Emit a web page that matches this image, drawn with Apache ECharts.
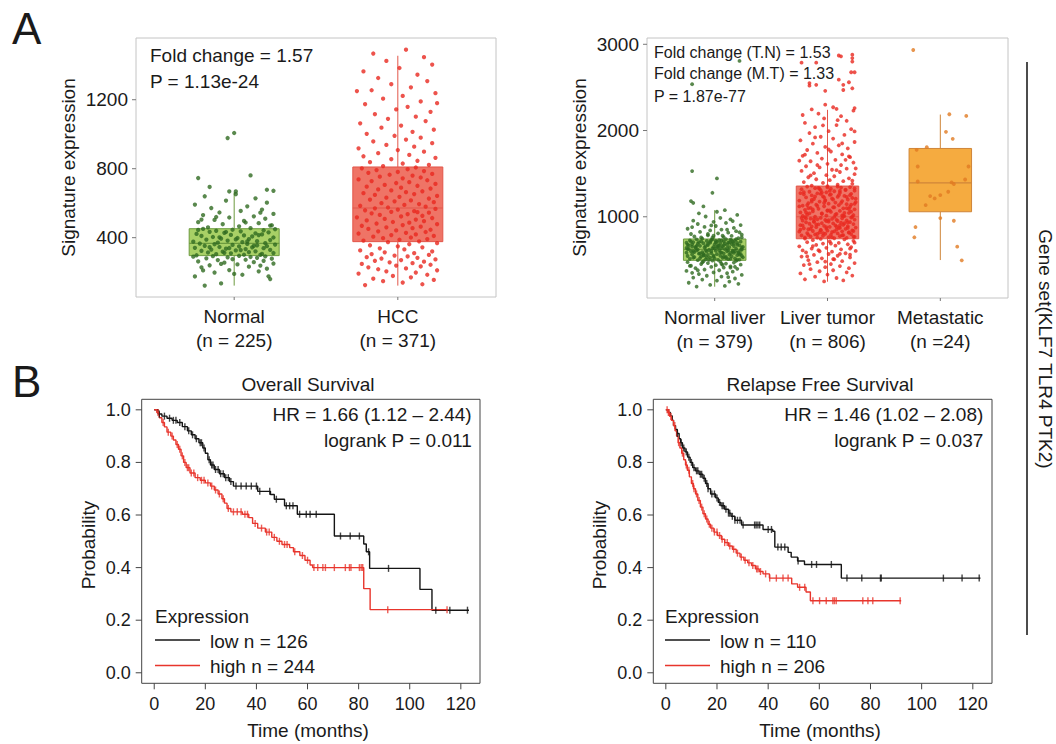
<!DOCTYPE html>
<html><head><meta charset="utf-8">
<script src="https://cdn.jsdelivr.net/npm/echarts@6/dist/echarts.min.js"></script>
<style>html,body{margin:0;padding:0;background:#fff}#c{width:1056px;height:744px}</style>
</head><body><div id="c"></div>
<script>
const FONT = '"Liberation Sans", Arial, Helvetica, sans-serif';

// ---------- Panel A (left) ----------
const catsA1 = ['Normal\n(n = 225)', 'HCC\n(n = 371)'];
const ticksA1 = [400, 800, 1200];
// [min, Q1, median, Q3, max]
const boxA1 = [[122, 296, 367, 452, 663], [122, 377, 572, 810, 1455]];
// [jitter (% of category spacing), value]
const ptsNormal = [[-18,122],[-8,135],[22,160],[-24,175],[5,185],[-12,198],[15,205],[-3,212],[20,220],[-20,228],[9,232],[-15,240],[2,245],[24,250],[-6,255],[12,258],[-22,262],[18,266],[-10,270],[7,272],[-1,275],[23,278],[-17,280],[14,283],[-4,286],[10,288],[-25,290],[19,292],[-13,293],[3,295],[-8,248],[16,238],[-19,210],[0,190],[21,176],
[-23,298],[6,301],[-11,304],[17,306],[-2,309],[24,311],[-16,314],[9,316],[-7,319],[13,321],[-20,324],[1,326],[22,329],[-14,331],[7,334],[-5,336],[18,339],[-24,341],[11,344],[-9,346],[3,349],[20,351],[-18,353],[14,356],[-1,358],[25,360],[-12,362],[8,364],[-21,366],[16,300],[-6,312],[4,328],[-15,345],[12,352],[-3,340],
[19,368],[-10,371],[5,374],[-25,377],[14,380],[-4,383],[22,386],[-17,389],[9,392],[-8,395],[2,398],[24,401],[-13,404],[11,407],[-20,410],[6,413],[-2,416],[17,419],[-23,422],[13,425],[-6,428],[21,431],[-15,434],[4,437],[-11,440],[18,443],[-1,446],[25,449],[-19,451],[8,378],[-9,402],[15,415],[-5,433],[1,390],[-22,445],
[10,455],[-16,460],[3,466],[23,472],[-7,478],[15,484],[-22,490],[6,497],[-12,503],[19,510],[-3,517],[12,524],[-19,531],[24,538],[-9,546],[4,555],[17,563],[-14,572],[8,582],[-24,592],[20,603],[-5,615],[13,628],[-18,640],[1,652],[22,470],[-11,520],[7,488],[16,545],[-20,505],
[-22,746],[10,761],[-15,694],[20,678],[24,672],[-3,668],[1,668],[-4,978],[0,1007]];
const ptsHCC = [[-20,125],[15,130],[3,140],[-9,148],[22,155],[-15,162],[8,170],[-3,178],[18,185],[-24,192],[11,198],[-7,205],[24,211],[-12,217],[5,222],[-18,228],[14,233],[-1,238],[20,243],[-22,248],[9,252],[-5,257],[16,261],[-14,266],[2,270],[23,274],[-10,279],[12,283],[-19,287],[6,291],[-2,296],[19,300],[-16,305],[10,310],[-8,315],[21,320],[-23,326],[4,332],[-11,338],[15,344],[0,350],[-17,356],[7,362],[24,368],[-6,374],
[13,379],[-21,383],[1,388],[18,392],[-9,397],[8,401],[-15,406],[22,410],[-4,415],[11,419],[-24,424],[5,428],[17,433],[-12,437],[-1,442],[20,446],[-18,451],[9,455],[-7,460],[14,464],[-22,469],[3,473],[24,478],[-13,482],[7,487],[-3,491],[16,496],[-19,500],[11,505],[-8,509],[21,514],[-25,518],[2,523],[15,527],[-11,532],[6,536],[-16,541],[19,545],[-4,550],[10,554],[-20,559],[0,563],[23,567],[-14,570],[12,548],
[-6,575],[17,580],[-23,585],[4,590],[13,595],[-10,600],[22,606],[-2,611],[8,616],[-17,621],[19,627],[-7,632],[1,637],[24,642],[-14,648],[10,653],[-21,658],[5,664],[15,669],[-4,674],[-12,680],[20,685],[2,690],[-19,696],[12,701],[-8,706],[23,712],[-1,717],[7,722],[-16,728],[18,733],[-24,738],[3,744],[14,749],[-11,754],[9,760],[-5,765],[21,770],[-18,776],[0,781],[16,786],[-13,792],[6,797],[-22,802],[11,807],
[-9,815],[19,822],[3,830],[-17,838],[12,846],[-4,855],[23,863],[-21,872],[7,880],[-12,890],[16,899],[0,908],[-24,918],[10,928],[-7,938],[21,948],[-15,958],[5,969],[14,980],[-2,991],[-19,1002],[9,1014],[22,1026],[-10,1038],[2,1050],[-23,1063],[17,1076],[-6,1089],[11,1102],[-14,1116],[20,1130],[-1,1144],[6,1159],[-20,1174],[14,1190],[-9,1206],[3,1222],[23,1238],[-16,1255],[8,1272],[-4,1290],[18,1308],[-12,1326],[12,1345],[-21,1364],[1,1384],[21,1404],[-7,1425],[16,1447],[-15,1468],[5,1490],[-25,1250],[24,1180]];

// ---------- Panel A (right) ----------
const catsA2 = ['Normal liver\n(n = 379)', 'Liver tumor\n(n = 806)', 'Metastatic\n(n =24)'];
const ticksA2 = [1000, 2000, 3000];
const boxA2 = [[189, 495, 622, 742, 1077], [247, 745, 1000, 1356, 2240], [498, 1058, 1394, 1792, 2185]];
const ptsNormalLiver = [[-16,190],[9,198],[-4,210],[21,222],[-23,235],[13,248],[2,260],[-11,272],[18,284],[-19,295],[6,306],[-7,316],[24,326],[-14,336],[11,345],[-1,354],[16,363],[-25,372],[4,380],[-9,388],[20,396],[-17,404],[8,411],[-3,418],[14,425],[-21,432],[1,439],[23,445],[-12,451],[10,457],[-6,463],[17,469],[-24,474],[5,479],[-10,484],[19,489],[-2,493],[12,300],[-20,350],[7,442],
[-15,497],[3,500],[22,503],[-8,506],[12,509],[-22,512],[0,515],[18,518],[-13,521],[7,524],[-4,527],[25,530],[-18,533],[10,536],[-1,539],[15,542],[-24,545],[5,548],[-10,551],[20,554],[-6,557],[13,560],[-20,563],[2,566],[23,569],[-14,572],[8,575],[-3,578],[17,581],[-25,584],[6,587],[-11,590],[21,593],[-7,596],[11,599],[-19,602],[1,605],[16,608],[-16,611],[4,614],[-5,617],[24,620],[-12,540],[14,580],[-21,600],
[9,624],[-23,627],[19,630],[-2,633],[6,636],[-17,639],[24,642],[-9,645],[13,648],[-1,651],[-20,654],[7,657],[17,660],[-13,663],[3,666],[22,669],[-6,672],[11,675],[-24,678],[0,681],[15,684],[-15,687],[5,690],[-10,693],[20,696],[-4,699],[12,702],[-19,705],[2,708],[23,711],[-12,714],[8,717],[-7,720],[18,723],[-22,726],[4,729],[-3,732],[14,735],[-16,738],[10,741],[25,650],[-25,700],[1,720],[-8,660],[16,710],
[-11,746],[21,752],[-2,758],[8,764],[-18,771],[15,778],[-6,785],[24,792],[-21,800],[3,808],[12,816],[-13,824],[19,833],[-4,842],[6,851],[-24,861],[17,871],[-9,882],[1,893],[23,904],[-15,916],[10,928],[-1,941],[-19,955],[14,970],[5,986],[-8,1003],[20,1021],[-14,1040],[2,1058],[9,1077],[-20,880],[22,820],[-3,900],[16,950],
[-5,500],[14,512],[-19,525],[8,538],[-1,550],[22,562],[-13,575],[5,588],[18,600],[-8,612],[-24,625],[11,637],[2,650],[-16,662],[20,675],[-6,687],[13,700],[-21,712],[6,725],[-2,737],[24,545],[-10,570],[16,595],[-15,620],[3,645],[-23,668],[9,690],[-4,715],[19,740],[-12,760],[7,780],[-18,590],[12,610],[0,630],[-9,555],[21,580],[-25,640],[4,665],[17,690],[-14,705],[10,520],[-7,530],[23,615],[-20,680],[1,700],[15,725],[-3,600],[-17,650],[8,670],[20,500],[-11,470],[6,455],[-22,430],[14,410],[-6,800],[11,850],[-15,380],[24,760],[-1,780],[18,420],
[-20,1530],[2,1445],[-2,1278],[-21,1182],[-19,1160],[-10,1120],[22,2807],[-20,2537]];
const ptsLiverTumor = [[-3,250],[14,262],[-20,275],[8,290],[-11,305],[22,318],[0,330],[-24,343],[17,356],[-7,368],[5,380],[-15,392],[19,404],[-2,416],[11,428],[-21,440],[3,452],[24,463],[-9,474],[13,485],[-17,496],[6,507],[-5,518],[20,528],[-23,538],[9,548],[-12,558],[1,568],[16,577],[-19,586],[4,595],[25,604],[-8,613],[12,622],[-14,631],[-1,640],[21,648],[-25,657],[7,665],[-10,673],[18,681],[-4,689],[10,697],[-18,705],[2,713],[23,721],[-13,729],[15,737],[-6,743],[-22,610],[24,700],[-16,450],[20,560],
[-20,747],[6,751],[17,755],[-9,759],[1,763],[24,767],[-15,771],[11,775],[-4,779],[-23,783],[14,787],[3,791],[-11,795],[21,799],[-2,803],[9,807],[-18,811],[19,815],[-7,819],[4,823],[-25,827],[13,831],[-13,835],[0,839],[22,843],[-6,847],[8,851],[-17,855],[16,859],[-1,863],[-21,867],[11,871],[25,875],[-10,879],[2,883],[-14,887],[18,891],[-3,895],[7,899],[-24,903],[14,907],[-8,911],[23,915],[-16,919],[5,923],[-5,927],[12,931],[-19,935],[20,939],[1,943],[-12,947],[9,951],[-22,955],[17,959],[-2,963],[24,967],[-9,971],[4,975],[-15,979],[13,983],[-6,987],[21,991],[-20,995],[6,998],
[-11,1002],[15,1008],[-1,1014],[23,1020],[-18,1026],[8,1032],[-5,1038],[19,1044],[-24,1050],[3,1056],[-13,1062],[11,1068],[0,1074],[-20,1080],[24,1086],[-8,1092],[14,1098],[-15,1104],[5,1110],[20,1116],[-3,1122],[-22,1128],[10,1134],[-10,1140],[17,1146],[1,1152],[-17,1158],[7,1164],[25,1170],[-7,1176],[13,1182],[-25,1188],[-2,1194],[18,1200],[-12,1206],[4,1212],[22,1218],[-19,1224],[9,1230],[-4,1236],[15,1242],[-14,1248],[2,1254],[-21,1260],[21,1266],[-9,1272],[11,1278],[-1,1284],[-16,1290],[6,1296],[24,1302],[-6,1308],[16,1314],[-23,1320],[3,1326],[-11,1332],[12,1338],[20,1344],[-18,1350],[0,1355],
[-14,1362],[9,1372],[22,1382],[-4,1392],[-21,1402],[14,1413],[2,1424],[-10,1435],[19,1446],[-17,1458],[6,1470],[-1,1482],[24,1494],[-12,1506],[11,1519],[-23,1532],[4,1545],[17,1558],[-7,1572],[-19,1586],[12,1600],[0,1614],[23,1629],[-15,1644],[7,1659],[-5,1675],[20,1691],[-22,1707],[13,1723],[-9,1740],[3,1757],[-18,1774],[18,1792],[-2,1810],[10,1829],[-13,1848],[24,1867],[-24,1887],[5,1907],[-6,1928],[15,1949],[-16,1971],[1,1993],[21,2016],[-11,2039],[8,2063],[-20,2088],[17,2113],[-3,2140],[12,2167],[-8,2195],[23,2230],[-22,2180],[19,1700],[-25,1650],[25,1560],
[4,760],[-17,790],[19,820],[-6,845],[10,870],[-22,900],[15,925],[-1,950],[-12,975],[22,1000],[7,1025],[-19,1050],[2,1075],[17,1100],[-9,1125],[24,1150],[-14,1175],[5,1200],[-3,1225],[20,1250],[-24,1275],[11,1300],[-7,1325],[0,1340],[-20,760],[13,785],[-4,810],[23,835],[-15,860],[8,885],[-10,910],[18,935],[1,960],[-23,985],[14,1010],[-5,1035],[21,1060],[-13,1085],[6,1110],[-18,1135],[12,1160],[-2,1185],[25,1210],[-11,1235],[3,1260],[-21,1285],[16,1310],[-8,1335],[9,1350],[-16,1040],[19,1090],[-25,1120],[11,900],[-1,880],[23,770],[-9,800],[6,830],[-14,1195],[17,1230],[-6,1265],[2,1300],[-19,980],[13,1015],[-3,1160],[21,1140],[-12,940],[8,965],[-22,1010],[15,1045],[0,1070],[-17,1100],[24,1330],[-5,1280],[10,1250],[-24,850],[18,870],[3,690],[-13,660],[20,630],[-7,600],[11,570],[-18,540],[5,510],[-2,480],[22,1420],[-15,1480],[8,1540],[-9,1600],[16,1660],[-20,1720],[1,1780],[13,1850],[-11,1920],[24,1990],[-4,2060],[9,2120],
[-23,2787],[-10,2787],[10,2870],[12,2860],[22,2880],[22,2840],[22,2800],[21,2676],[24,2676],[-16,2550],[-16,2520],[-10,2530],[-2,2460],[10,2590],[14,2530],[14,2470],[19,2560],[22,2490],[-2,2300],[5,2270],[8,2250],[24,2260],[-14,2245]];
const ptsMetastatic = [[-24,2934],[8,2189],[23,2169],[5,1985],[11,1904],[-12,1807],[-21,1776],[-20,1583],[25,1583],[22,1432],[-20,1409],[10,1398],[7,1290],[0,1251],[-9,1240],[-5,1213],[-13,1135],[0,985],[12,954],[-22,881],[-23,762],[15,653],[19,495],[12,1380]];

// ---------- Panel B: Kaplan-Meier ----------
const kmTicksX = [0, 20, 40, 60, 80, 100, 120];
const kmTicksY = [0, 0.2, 0.4, 0.6, 0.8, 1.0];
// [time (months), survival after this time]
const osLow = [[0,1],[1.5,0.984],[3,0.976],[5,0.968],[7,0.96],[9,0.952],[11,0.936],[13,0.92],[14.5,0.905],[16,0.89],[17.5,0.875],[19,0.855],[20,0.835],[21,0.81],[22,0.79],[23.5,0.773],[25.5,0.757],[27.5,0.742],[29.5,0.727],[31,0.71],[40.5,0.69],[45.5,0.678],[47,0.66],[51,0.635],[56,0.603],[70.5,0.52],[82,0.49],[83,0.46],[84.3,0.397],[104,0.317],[108.7,0.238],[123.2,0.238]];
const osLowCens = [2,4,6,7.5,8.5,10,12,13.5,15,16.5,18,18.5,19.5,21.5,22.5,23,24,25,26,27,28,29,30,32,34,36,38,40,41.3,45.2,47.8,51.7,53,54.3,56.9,59.5,61,63.4,72.9,76.7,80.3,83.9,91.7,110.2,115.7,122.6];
const osHigh = [[0,1],[1,0.99],[2,0.97],[3,0.952],[4,0.935],[5,0.915],[6.5,0.9],[7.5,0.885],[8.5,0.868],[9.5,0.85],[10.5,0.825],[11.5,0.8],[12.5,0.78],[14,0.76],[16,0.742],[18,0.732],[20,0.722],[22,0.71],[23.5,0.695],[25,0.68],[26.5,0.662],[27.5,0.645],[28.5,0.625],[30,0.612],[34.5,0.603],[37,0.59],[38.5,0.568],[40.5,0.55],[43.5,0.535],[46,0.515],[48,0.5],[50,0.488],[53,0.476],[54.5,0.46],[57,0.446],[59,0.428],[61,0.41],[62,0.4],[82,0.32],[84.5,0.24],[114.8,0.24]];
const osHighCens = [1.5,3.5,5.5,7,9,10,11,12,13,13.5,14.5,15.5,17,18.5,19.5,21,22.5,24,25.5,27,29,31,32.5,34,35.5,36.5,39.5,42,44,45,47,49,51,52,55,58,60,62.5,64,66,67,70.5,74.8,76.4,77,80.3,81,81.6,91.4,114.6];
const rfsLow = [[0,1],[1,0.99],[1.8,0.977],[2.5,0.96],[3,0.94],[3.8,0.925],[4.5,0.91],[5.2,0.89],[5.8,0.875],[6.5,0.855],[7.5,0.84],[8.5,0.82],[9.5,0.8],[10.5,0.78],[11.5,0.768],[13,0.755],[14.5,0.74],[15.5,0.72],[16.5,0.7],[17.5,0.68],[19.5,0.665],[20.5,0.648],[21.5,0.635],[23,0.622],[24.5,0.607],[25.5,0.595],[27,0.58],[29.6,0.562],[38,0.545],[41.8,0.538],[42.6,0.478],[47.8,0.458],[49,0.44],[51.5,0.425],[54.2,0.412],[68.6,0.36],[123,0.36]];
const rfsLowCens = [4.5,6,7,8,9,10,11,12,12.5,13.5,14,15,16,16.5,18,19,20,21,22,22.5,23.5,24.5,25,26,27,28,29,30.2,34.7,35.3,36,36.7,40,41.3,43.8,45.1,46.5,51.7,57,58.9,64.7,70.8,76.6,83.9,84.2,108.5,115.8,122.5];
const rfsHigh = [[0,1],[0.8,0.99],[1.5,0.975],[2.2,0.96],[3,0.94],[3.6,0.92],[4.2,0.9],[4.8,0.875],[5.5,0.855],[6.2,0.835],[7,0.81],[7.7,0.79],[8.4,0.77],[9.2,0.745],[10,0.72],[10.8,0.7],[11.6,0.68],[12.5,0.655],[13.5,0.63],[14.5,0.605],[15.5,0.585],[16.5,0.565],[17.5,0.55],[18.8,0.535],[20.2,0.522],[21.7,0.508],[23,0.495],[24.5,0.482],[26,0.47],[27.5,0.455],[29,0.44],[30.5,0.428],[32,0.418],[33.5,0.408],[35,0.395],[36.5,0.385],[38,0.376],[40.5,0.36],[49.2,0.338],[51.5,0.325],[54.8,0.307],[56.5,0.274],[92,0.274]];
const rfsHighCens = [0.5,1,1.3,2,3.5,5,6.5,8,9,10.5,11,12,13,14,15,16,17,18,19,20,21,22,23,24,25,26.5,28,29.5,31,32.5,34,35.5,36,37,39,40.6,43.2,45.8,47.8,52.3,54.3,57.5,60.1,62.7,65.3,65.9,66.6,77,79,80.9,91.6];

// ---------- helpers ----------
const C = {
  green: { fill: '#a8d066', line: '#6d9b3f', pt: '#2f6a20' },
  red:   { fill: '#ef7466', line: '#e2564a', pt: '#e8281f' },
  orange:{ fill: '#f5ab40', line: '#cf8538', pt: '#e17a22' }
};
const KM_BLACK = '#151515', KM_RED = '#e8352c';

function jitterData(pts, cat) { return pts.map(p => [cat + p[0] / 100, p[1]]); }
function survAt(curve, t) { let s = curve[0][1]; for (const p of curve) { if (p[0] <= t) s = p[1]; } return s; }
function censData(curve, times) { return times.map(t => [t, survAt(curve, t)]); }

function boxRender(colors, half) {
  return function (params, api) {
    const x = api.value(0);
    const mn = api.value(1), q1 = api.value(2), md = api.value(3), q3 = api.value(4), mx = api.value(5);
    const pL = api.coord([x - half, q3]), pR = api.coord([x + half, q1]);
    const pm = api.coord([x, md]), ptop = api.coord([x, mx]), pbot = api.coord([x, mn]);
    const pq3 = api.coord([x, q3]), pq1 = api.coord([x, q1]);
    const col = colors[params.dataIndex];
    return { type: 'group', children: [
      { type: 'line', shape: { x1: ptop[0], y1: ptop[1], x2: pq3[0], y2: pq3[1] }, style: { stroke: col.line, lineWidth: 1 } },
      { type: 'line', shape: { x1: pbot[0], y1: pbot[1], x2: pq1[0], y2: pq1[1] }, style: { stroke: col.line, lineWidth: 1 } },
      { type: 'rect', shape: { x: pL[0], y: pL[1], width: pR[0] - pL[0], height: pR[1] - pL[1] }, style: { fill: col.fill, stroke: col.line, lineWidth: 1 } },
      { type: 'line', shape: { x1: pL[0], y1: pm[1], x2: pR[0], y2: pm[1] }, style: { stroke: col.line, lineWidth: 1.2 } }
    ]};
  };
}

// tick marks drawn through the axes' scales (outside the plot box)
function tickSeries(grid, dir, values, other, len, color) {
  return { type: 'custom', xAxisIndex: grid, yAxisIndex: grid, silent: true, z: 6, clip: false,
    data: values.map(v => dir === 'y' ? [other, v] : [v, other]),
    encode: { x: 0, y: 1 },
    renderItem: function (params, api) {
      const p = api.coord([api.value(0), api.value(1)]);
      const cs = params.coordSys;
      const shape = dir === 'y'
        ? { x1: cs.x - len, y1: p[1], x2: cs.x, y2: p[1] }
        : { x1: p[0], y1: cs.y + cs.height, x2: p[0], y2: cs.y + cs.height + len };
      return { type: 'line', shape: shape, style: { stroke: color, lineWidth: 1 } };
    }
  };
}

function txt(x, y, s, opt) {
  opt = opt || {};
  return { type: 'text', x: x, y: y, rotation: opt.rot || 0, z: 100,
    style: { text: s, fontSize: opt.size || 19, fontFamily: FONT, fill: opt.color || '#1a1a1a',
      fontWeight: opt.weight || 'normal',
      align: opt.align || 'left', textAlign: opt.align || 'left',
      verticalAlign: 'middle', textVerticalAlign: 'middle' } };
}
function hline(x1, x2, y, color) {
  return { type: 'line', z: 100, shape: { x1: x1, y1: y, x2: x2, y2: y }, style: { stroke: color, lineWidth: 1.4 } };
}

const topXAxis = (grid, cats, max) => ({
  gridIndex: grid, type: 'value', min: -0.6, max: max,
  axisLine: { show: false }, splitLine: { show: false }, axisTick: { show: false },
  axisLabel: { customValues: cats.map((c, i) => i), formatter: v => cats[Math.round(v)], fontSize: 19, lineHeight: 24,
    fontFamily: FONT, color: '#1a1a1a', margin: 7 }
});
const topYAxis = (grid, min, max, ticks) => ({
  gridIndex: grid, type: 'value', min: min, max: max,
  axisLine: { show: false }, splitLine: { show: false }, axisTick: { show: false },
  axisLabel: { customValues: ticks, formatter: v => String(v), fontSize: 19, fontFamily: FONT, color: '#1a1a1a', margin: 8 }
});
const kmXAxis = (grid) => ({
  gridIndex: grid, type: 'value', min: -4.9, max: 127.5,
  axisLine: { show: false }, splitLine: { show: false }, axisTick: { show: false },
  axisLabel: { customValues: kmTicksX, formatter: v => String(v), fontSize: 18, fontFamily: FONT, color: '#1a1a1a', margin: 12 }
});
const kmYAxis = (grid) => ({
  gridIndex: grid, type: 'value', min: -0.04, max: 1.04,
  axisLine: { show: false }, splitLine: { show: false }, axisTick: { show: false },
  axisLabel: { customValues: kmTicksY, formatter: v => v.toFixed(1), fontSize: 18, fontFamily: FONT, color: '#1a1a1a', margin: 11 }
});

function kmSeries(grid, curve, cens, color, name) {
  return [
    { type: 'line', name: name, xAxisIndex: grid, yAxisIndex: grid, data: curve, step: 'end', showSymbol: false, symbol: 'none',
      lineStyle: { color: color, width: 1.4 }, z: 3, silent: true },
    { type: 'scatter', xAxisIndex: grid, yAxisIndex: grid, data: censData(curve, cens), symbol: 'rect', symbolSize: [1.4, 7],
      itemStyle: { color: color }, z: 4, silent: true }
  ];
}

const chart = echarts.init(document.getElementById('c'), null, { renderer: 'svg' });
chart.setOption({
  animation: false,
  backgroundColor: '#ffffff',
  grid: [
    { left: 136, top: 38, width: 360, height: 259, show: true, borderColor: '#c4c4c4', borderWidth: 1, backgroundColor: 'transparent' },
    { left: 647, top: 38, width: 361, height: 260, show: true, borderColor: '#c4c4c4', borderWidth: 1, backgroundColor: 'transparent' },
    { left: 141.7, top: 399.3, width: 338.3, height: 284, show: true, borderColor: '#444', borderWidth: 1, backgroundColor: 'transparent' },
    { left: 653.3, top: 399.3, width: 338.7, height: 284, show: true, borderColor: '#444', borderWidth: 1, backgroundColor: 'transparent' }
  ],
  xAxis: [topXAxis(0, catsA1, 1.6), topXAxis(1, catsA2, 2.6), kmXAxis(2), kmXAxis(3)],
  yAxis: [topYAxis(0, 56, 1558, ticksA1), topYAxis(1, 58, 3073, ticksA2), kmYAxis(2), kmYAxis(3)],
  series: [
    { type: 'custom', xAxisIndex: 0, yAxisIndex: 0, renderItem: boxRender([C.green, C.red], 0.275),
      data: boxA1.map((b, i) => [i].concat(b)), encode: { x: 0, y: [1, 2, 3, 4, 5] }, z: 1, silent: true },
    { type: 'scatter', xAxisIndex: 0, yAxisIndex: 0, data: jitterData(ptsNormal, 0), symbolSize: 4.3, itemStyle: { color: C.green.pt }, z: 2, silent: true },
    { type: 'scatter', xAxisIndex: 0, yAxisIndex: 0, data: jitterData(ptsHCC, 1), symbolSize: 4.3, itemStyle: { color: C.red.pt }, z: 2, silent: true },
    { type: 'custom', xAxisIndex: 1, yAxisIndex: 1, renderItem: boxRender([C.green, C.red, C.orange], 0.277),
      data: boxA2.map((b, i) => [i].concat(b)), encode: { x: 0, y: [1, 2, 3, 4, 5] }, z: 1, silent: true },
    { type: 'scatter', xAxisIndex: 1, yAxisIndex: 1, data: jitterData(ptsNormalLiver, 0), symbolSize: 3.8, itemStyle: { color: C.green.pt }, z: 2, silent: true },
    { type: 'scatter', xAxisIndex: 1, yAxisIndex: 1, data: jitterData(ptsLiverTumor, 1), symbolSize: 3.8, itemStyle: { color: C.red.pt }, z: 2, silent: true },
    { type: 'scatter', xAxisIndex: 1, yAxisIndex: 1, data: jitterData(ptsMetastatic, 2), symbolSize: 3.8, itemStyle: { color: C.orange.pt }, z: 2, silent: true },
    tickSeries(0, 'y', ticksA1, -0.6, 4, '#777'),
    tickSeries(0, 'x', catsA1.map((c, i) => i), 56, 3, '#777'),
    tickSeries(1, 'y', ticksA2, -0.6, 4, '#777'),
    tickSeries(1, 'x', catsA2.map((c, i) => i), 58, 3, '#777'),
    tickSeries(2, 'y', kmTicksY, -4.9, 6, '#444'),
    tickSeries(2, 'x', kmTicksX, -0.04, 6, '#444'),
    tickSeries(3, 'y', kmTicksY, -4.9, 6, '#444'),
    tickSeries(3, 'x', kmTicksX, -0.04, 6, '#444')
  ].concat(
    kmSeries(2, osLow, osLowCens, KM_BLACK, 'os-low'),
    kmSeries(2, osHigh, osHighCens, KM_RED, 'os-high'),
    kmSeries(3, rfsLow, rfsLowCens, KM_BLACK, 'rfs-low'),
    kmSeries(3, rfsHigh, rfsHighCens, KM_RED, 'rfs-high')
  ),
  graphic: [
    txt(12, 28, 'A', { size: 44 }),
    txt(12, 381, 'B', { size: 44 }),
    txt(68, 167.5, 'Signature expression', { rot: Math.PI / 2, align: 'center' }),
    txt(150, 55, 'Fold change = 1.57'),
    txt(150, 81, 'P = 1.13e-24'),
    txt(579, 167.5, 'Signature expression', { rot: Math.PI / 2, align: 'center' }),
    txt(654, 52, 'Fold change (T.N) = 1.53', { size: 16 }),
    txt(654, 73.5, 'Fold change (M.T) = 1.33', { size: 16 }),
    txt(654, 96, 'P = 1.87e-77', { size: 16 }),
    { type: 'line', z: 100, shape: { x1: 1027, y1: 62, x2: 1027, y2: 635 }, style: { stroke: '#111', lineWidth: 1.5 } },
    txt(1045, 349, 'Gene set(KLF7 TLR4 PTK2)', { rot: -Math.PI / 2, align: 'center' }),
    txt(308, 384, 'Overall Survival', { align: 'center' }),
    txt(471.7, 414, 'HR = 1.66 (1.12 \u2013 2.44)', { align: 'right' }),
    txt(471.7, 440, 'logrank P = 0.011', { align: 'right' }),
    txt(88, 545, 'Probability', { rot: Math.PI / 2, align: 'center' }),
    txt(308, 730, 'Time (months)', { align: 'center' }),
    txt(155, 616, 'Expression'),
    hline(155, 200, 640, KM_BLACK), txt(210, 641.5, 'low n = 126'),
    hline(155, 200, 665.5, KM_RED), txt(210, 666.5, 'high n = 244'),
    txt(820, 384, 'Relapse Free Survival', { align: 'center' }),
    txt(983.3, 414, 'HR = 1.46 (1.02 \u2013 2.08)', { align: 'right' }),
    txt(983.3, 440, 'logrank P = 0.037', { align: 'right' }),
    txt(599, 545, 'Probability', { rot: Math.PI / 2, align: 'center' }),
    txt(820, 730, 'Time (months)', { align: 'center' }),
    txt(665, 616, 'Expression'),
    hline(665, 710, 640, KM_BLACK), txt(720, 641.5, 'low n = 110'),
    hline(665, 710, 665.5, KM_RED), txt(720, 666.5, 'high n = 206')
  ]
});
</script>
</body></html>
